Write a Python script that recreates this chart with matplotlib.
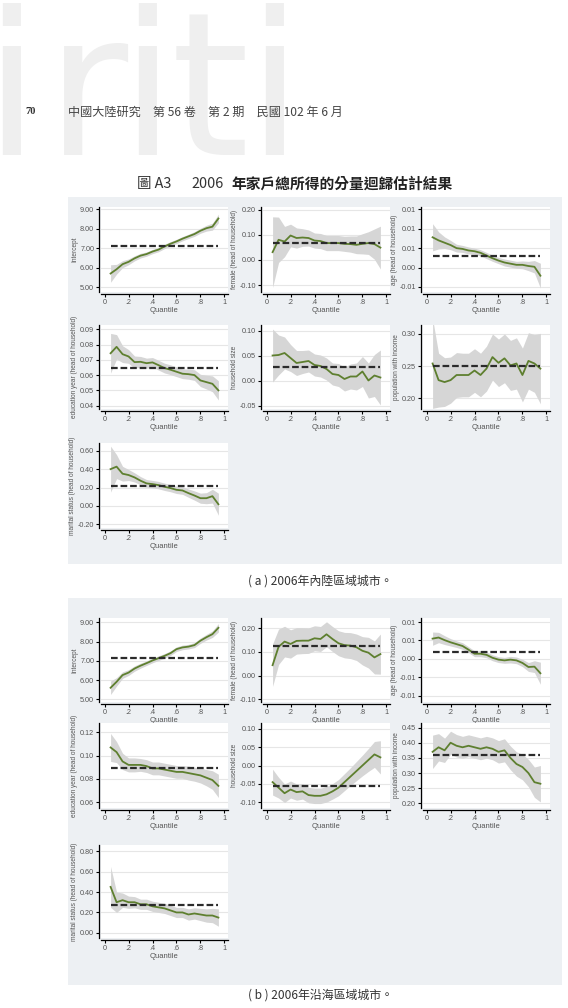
import numpy as np
import matplotlib.pyplot as plt
from matplotlib.patches import Rectangle

plt.rcParams['font.family'] = ['Liberation Sans', 'DejaVu Sans']
CJK = ['Noto Sans CJK TC', 'DejaVu Sans']

# quantiles used in every panel
q = [0.05, 0.10, 0.15, 0.20, 0.25, 0.30, 0.35, 0.40, 0.45, 0.50,
     0.55, 0.60, 0.65, 0.70, 0.75, 0.80, 0.85, 0.90, 0.95]
xtick_vals = [0, 0.2, 0.4, 0.6, 0.8, 1]
xtick_txt = ['0', '.2', '.4', '.6', '.8', '1']

# ---- (a) inland cities ----
a_int = [5.70, 5.92, 6.18, 6.30, 6.48, 6.62, 6.70, 6.83, 6.93, 7.09,
         7.23, 7.35, 7.49, 7.61, 7.73, 7.90, 8.03, 8.11, 8.53]
a_int_ci = [0.45, 0.25, 0.18, 0.15, 0.13, 0.12, 0.11, 0.11, 0.11, 0.11,
            0.11, 0.11, 0.11, 0.11, 0.12, 0.13, 0.15, 0.18, 0.22]
a_int_ols = 7.10

a_fem = [0.031, 0.080, 0.073, 0.097, 0.087, 0.089, 0.087, 0.077, 0.075, 0.067,
         0.067, 0.067, 0.064, 0.063, 0.060, 0.064, 0.067, 0.063, 0.049]
a_fem_ci = [0.14, 0.09, 0.06, 0.045, 0.04, 0.035, 0.032, 0.03, 0.03, 0.03,
            0.03, 0.03, 0.03, 0.032, 0.035, 0.04, 0.045, 0.06, 0.085]
a_fem_ols = 0.068

a_age = [0.0078, 0.0070, 0.0064, 0.0058, 0.0050, 0.0048, 0.0044, 0.0042, 0.0038, 0.0031,
         0.0024, 0.0018, 0.0013, 0.0010, 0.0007, 0.0007, 0.0004, 0.0002, -0.0021]
a_age_ci = [0.0035, 0.0022, 0.0015, 0.0012, 0.0010, 0.0009, 0.0009, 0.0008, 0.0008, 0.0008,
            0.0008, 0.0008, 0.0009, 0.0009, 0.0009, 0.0010, 0.0012, 0.0016, 0.0032]
a_age_ols = 0.0031

a_edu = [0.0743, 0.0785, 0.0737, 0.0722, 0.0685, 0.0687, 0.0678, 0.0683, 0.0665, 0.0646,
         0.0635, 0.0622, 0.0609, 0.0606, 0.0600, 0.0565, 0.0554, 0.0543, 0.0500]
a_edu_ci = [0.013, 0.008, 0.0055, 0.0045, 0.004, 0.0035, 0.0033, 0.0032, 0.0032, 0.0032,
            0.0032, 0.0032, 0.0032, 0.0033, 0.0035, 0.004, 0.0045, 0.0052, 0.0063]
a_edu_ols = 0.0648

a_hh = [0.050, 0.051, 0.055, 0.045, 0.035, 0.037, 0.039, 0.031, 0.029, 0.023,
        0.013, 0.011, 0.003, 0.008, 0.008, 0.018, 0.000, 0.010, 0.006]
a_hh_ci = [0.053, 0.04, 0.032, 0.027, 0.025, 0.023, 0.022, 0.022, 0.022, 0.022,
           0.022, 0.023, 0.024, 0.025, 0.027, 0.03, 0.035, 0.042, 0.055]
a_hh_ols = 0.027

a_pop = [0.254, 0.228, 0.225, 0.228, 0.236, 0.236, 0.236, 0.243, 0.236, 0.246,
         0.264, 0.255, 0.262, 0.251, 0.254, 0.236, 0.258, 0.254, 0.246]
a_pop_ci = [0.07, 0.042, 0.038, 0.036, 0.035, 0.034, 0.034, 0.034, 0.034, 0.035,
            0.036, 0.037, 0.038, 0.039, 0.040, 0.042, 0.044, 0.045, 0.055]
a_pop_ols = 0.250

a_mar = [0.400, 0.427, 0.350, 0.336, 0.310, 0.274, 0.245, 0.237, 0.226, 0.208,
         0.194, 0.175, 0.168, 0.139, 0.113, 0.084, 0.084, 0.106, 0.018]
a_mar_ci = [0.25, 0.13, 0.08, 0.06, 0.05, 0.045, 0.042, 0.04, 0.04, 0.04,
            0.04, 0.04, 0.042, 0.045, 0.05, 0.055, 0.06, 0.075, 0.12]
a_mar_ols = 0.212

# ---- (b) coastal cities ----
b_int = [5.60, 5.91, 6.26, 6.39, 6.60, 6.75, 6.88, 7.02, 7.14, 7.26,
         7.40, 7.61, 7.70, 7.74, 7.82, 8.05, 8.23, 8.39, 8.72]
b_int_ci = [0.35, 0.22, 0.17, 0.15, 0.14, 0.13, 0.12, 0.12, 0.12, 0.12,
            0.12, 0.12, 0.12, 0.12, 0.13, 0.14, 0.15, 0.17, 0.22]
b_int_ols = 7.14

b_fem = [0.044, 0.122, 0.144, 0.134, 0.147, 0.148, 0.148, 0.158, 0.155, 0.175,
         0.155, 0.137, 0.129, 0.127, 0.120, 0.105, 0.097, 0.077, 0.091]
b_fem_ci = [0.09, 0.075, 0.065, 0.06, 0.056, 0.055, 0.054, 0.053, 0.053, 0.053,
            0.053, 0.053, 0.054, 0.055, 0.056, 0.06, 0.065, 0.07, 0.085]
b_fem_ols = 0.125

b_age = [0.0055, 0.0058, 0.0051, 0.0045, 0.0040, 0.0035, 0.0025, 0.0014, 0.0014, 0.0011,
         0.0003, -0.0002, -0.0004, -0.0002, -0.0004, -0.0011, -0.0022, -0.0021, -0.0039]
b_age_ci = [0.0018, 0.0014, 0.0012, 0.0010, 0.0009, 0.0009, 0.0008, 0.0008, 0.0008, 0.0008,
            0.0008, 0.0008, 0.0008, 0.0009, 0.0009, 0.0010, 0.0012, 0.0016, 0.0030]
b_age_ols = 0.0018

b_edu = [0.107, 0.103, 0.095, 0.092, 0.092, 0.092, 0.091, 0.089, 0.089, 0.088,
         0.087, 0.086, 0.086, 0.085, 0.084, 0.083, 0.081, 0.079, 0.074]
b_edu_ci = [0.012, 0.009, 0.007, 0.006, 0.006, 0.0055, 0.0055, 0.0055, 0.0055, 0.0055,
            0.0055, 0.0055, 0.0055, 0.006, 0.006, 0.0065, 0.007, 0.008, 0.010]
b_edu_ols = 0.089

b_hh = [-0.045, -0.060, -0.075, -0.065, -0.072, -0.070, -0.080, -0.082, -0.082, -0.078,
        -0.070, -0.060, -0.045, -0.030, -0.015, 0.000, 0.015, 0.030, 0.022]
b_hh_ci = [0.035, 0.028, 0.025, 0.023, 0.022, 0.021, 0.021, 0.021, 0.021, 0.021,
           0.021, 0.022, 0.023, 0.024, 0.026, 0.028, 0.031, 0.035, 0.045]
b_hh_ols = -0.055

b_pop = [0.370, 0.385, 0.375, 0.400, 0.390, 0.385, 0.390, 0.385, 0.380, 0.385,
         0.380, 0.370, 0.375, 0.350, 0.330, 0.320, 0.300, 0.270, 0.265]
b_pop_ci = [0.055, 0.045, 0.04, 0.038, 0.037, 0.036, 0.036, 0.036, 0.036, 0.036,
            0.036, 0.037, 0.038, 0.039, 0.040, 0.042, 0.045, 0.05, 0.06]
b_pop_ols = 0.360

b_mar = [0.450, 0.300, 0.320, 0.300, 0.300, 0.280, 0.280, 0.260, 0.250, 0.240,
         0.220, 0.200, 0.200, 0.180, 0.190, 0.180, 0.170, 0.170, 0.150]
b_mar_ci = [0.20, 0.10, 0.07, 0.06, 0.055, 0.05, 0.05, 0.05, 0.05, 0.05,
            0.05, 0.05, 0.05, 0.055, 0.055, 0.06, 0.065, 0.07, 0.085]
b_mar_ols = 0.270

W, H = 568, 1008
fig = plt.figure(figsize=(W / 100, H / 100), dpi=100)
fig.patch.set_facecolor('white')


def fx(x):
    return x / W


def fy(y):
    return 1 - y / H


# watermark
for ch, cx in zip('iriti', [11, 87, 147, 210, 274]):
    fig.text(fx(cx), fy(155), ch, fontsize=144, color='#efefef',
             family='DejaVu Sans', ha='center', va='baseline', zorder=-10)

# page header and title
fig.text(fx(25), fy(112), '70', fontsize=7.5, fontweight='bold',
         family='Liberation Serif', color='#333333', va='center')
fig.text(fx(68), fy(112), '中國大陸研究　第 56 卷　第 2 期　民國 102 年 6 月',
         fontsize=8.7, family=CJK, color='#444444', va='center')
fig.text(fx(137), fy(184), '圖 A3', fontsize=10.4, family=CJK,
         color='#333333', va='center')
fig.text(fx(191), fy(184), '2006', fontsize=10.4, family=CJK,
         color='#333333', va='center')
fig.text(fx(231), fy(184), '年家戶總所得的分量迴歸估計結果', fontsize=10.6,
         family=CJK, fontweight='bold', color='#222222', va='center')

# panel backgrounds
for top, bot in [(197, 564), (598, 985)]:
    fig.add_artist(Rectangle((fx(68), fy(bot)), (562 - 68) / W, (bot - top) / H,
                             transform=fig.transFigure, facecolor='#edf0f3',
                             edgecolor='none', zorder=-5))

fig.text(fx(320), fy(581), '( a ) 2006年內陸區域城市。', fontsize=8.6,
         family=CJK, color='#333333', ha='center', va='center')
fig.text(fx(320), fy(995), '( b ) 2006年沿海區域城市。', fontsize=8.6,
         family=CJK, color='#333333', ha='center', va='center')


def draw(x0, top, bottom, est, ci, ols, ylim, yticks, ylabels, ylabel):
    ax = fig.add_axes([fx(x0), fy(bottom), 127 / W, (bottom - top) / H])
    est = np.array(est)
    ci = np.array(ci)
    ax.fill_between(q, est - ci, est + ci, color='#d6d6d6', lw=0, zorder=2)
    ax.plot(q, est, color='#5e7f2f', lw=1.3, zorder=3)
    ax.plot([q[0], q[-1]], [ols, ols], color='#2b2b2b', lw=1.6,
            linestyle=(0, (3.0, 1.3)), zorder=4)
    ax.set_xlim(-0.03, 1.03)
    ax.set_ylim(*ylim)
    ax.set_xticks(xtick_vals)
    ax.set_xticklabels(xtick_txt)
    ax.set_yticks(yticks)
    ax.set_yticklabels(ylabels, rotation=90, va='center')
    ax.grid(axis='y', color='#e6e6e6', lw=0.8)
    ax.set_axisbelow(True)
    for s in ['top', 'right']:
        ax.spines[s].set_visible(False)
    ax.spines['left'].set_position(('outward', 1.5))
    ax.spines['bottom'].set_position(('outward', 1.5))
    ax.spines['left'].set_linewidth(0.9)
    ax.spines['bottom'].set_linewidth(0.9)
    ax.tick_params(length=2.2, width=0.8, labelsize=5.2, labelcolor='#555555', pad=1.2)
    ax.set_xlabel('Quantile', fontsize=5.5, color='#555555', labelpad=0.6)
    ax.set_ylabel(ylabel, fontsize=4.7, color='#555555', labelpad=1.5)
    return ax


cols = [101, 263, 423]
rows_a = [(207, 292), (325, 409), (443, 528)]
rows_b = [(618, 702), (723, 808), (845, 938)]
hoh = ' (head of household)'

for rows, d in [(rows_a, [
        (a_int, a_int_ci, a_int_ols, (4.75, 9.12), [5, 6, 7, 8, 9],
         ['5.00', '6.00', '7.00', '8.00', '9.00'], 'Intercept'),
        (a_fem, a_fem_ci, a_fem_ols, (-0.127, 0.21), [-0.1, 0, 0.1, 0.2],
         ['-0.10', '0.00', '0.10', '0.20'], 'female' + hoh),
        (a_age, a_age_ci, a_age_ols, (-0.0063, 0.0156), [-0.005, 0, 0.005, 0.01, 0.015],
         ['-0.01', '0.00', '0.01', '0.01', '0.01'], 'age' + hoh),
        (a_edu, a_edu_ci, a_edu_ols, (0.0378, 0.0928), [0.04, 0.05, 0.06, 0.07, 0.08, 0.09],
         ['0.04', '0.05', '0.06', '0.07', '0.08', '0.09'], 'education year' + hoh),
        (a_hh, a_hh_ci, a_hh_ols, (-0.057, 0.111), [-0.05, 0, 0.05, 0.1],
         ['-0.05', '0.00', '0.05', '0.10'], 'household size'),
        (a_pop, a_pop_ci, a_pop_ols, (0.183, 0.314), [0.2, 0.25, 0.3],
         ['0.20', '0.25', '0.30'], 'population with income'),
        (a_mar, a_mar_ci, a_mar_ols, (-0.24, 0.684), [-0.2, 0, 0.2, 0.4, 0.6],
         ['-0.20', '0.00', '0.20', '0.40', '0.60'], 'marital status' + hoh)]),
        (rows_b, [
        (b_int, b_int_ci, b_int_ols, (4.86, 9.23), [5, 6, 7, 8, 9],
         ['5.00', '6.00', '7.00', '8.00', '9.00'], 'Intercept'),
        (b_fem, b_fem_ci, b_fem_ols, (-0.112, 0.244), [-0.1, 0, 0.1, 0.2],
         ['-0.10', '0.00', '0.10', '0.20'], 'female' + hoh),
        (b_age, b_age_ci, b_age_ols, (-0.0117, 0.0111), [-0.01, -0.005, 0, 0.005, 0.01],
         ['-0.01', '-0.01', '0.00', '0.01', '0.01'], 'age' + hoh),
        (b_edu, b_edu_ci, b_edu_ols, (0.055, 0.128), [0.06, 0.08, 0.10, 0.12],
         ['0.06', '0.08', '0.10', '0.12'], 'education year' + hoh),
        (b_hh, b_hh_ci, b_hh_ols, (-0.115, 0.115), [-0.1, -0.05, 0, 0.05, 0.1],
         ['-0.10', '-0.05', '0.00', '0.05', '0.10'], 'household size'),
        (b_pop, b_pop_ci, b_pop_ols, (0.185, 0.465), [0.2, 0.25, 0.3, 0.35, 0.4, 0.45],
         ['0.20', '0.25', '0.30', '0.35', '0.40', '0.45'], 'population with income'),
        (b_mar, b_mar_ci, b_mar_ols, (-0.05, 0.86), [0, 0.2, 0.4, 0.6, 0.8],
         ['0.00', '0.20', '0.40', '0.60', '0.80'], 'marital status' + hoh)])]:
    for i, spec in enumerate(d):
        top, bottom = rows[i // 3]
        draw(cols[i % 3], top, bottom, *spec)

fig.savefig('out.png', dpi=100)
